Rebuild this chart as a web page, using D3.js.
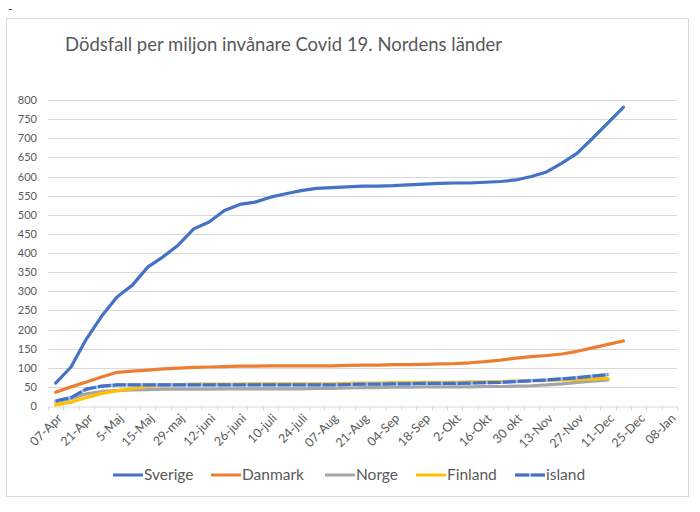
<!DOCTYPE html>
<html>
<head>
<meta charset="utf-8">
<script src="https://cdn.jsdelivr.net/npm/d3@7"></script>
<style>
  html, body { margin: 0; padding: 0; background: #fff; }
  svg { display: block; font-family: "Lato", "Open Sans", sans-serif; }
</style>
</head>
<body>
<svg id="chart" width="700" height="512"></svg>
<script>
// ---- Data ----
const categories = ["07-Apr","14-Apr","21-Apr","28-Apr","5-Maj","10-Maj","15-Maj","22-maj","29-maj","5-juni",
  "12-juni","19-juni","26-juni","3-juli","10-juli","17-juli","24-juli","31-juli","07-Aug","14-Aug",
  "21-Aug","28-Aug","04-Sep","11-Sep","18-Sep","25-Sep","2-Okt","9-Okt","16-Okt","23-Okt",
  "30 okt","6-Nov","13-Nov","20-Nov","27-Nov","4-Dec","11-Dec","18-Dec","25-Dec","01-Jan","08-Jan"];
const tickLabels = ["07-Apr","21-Apr","5-Maj","15-Maj","29-maj","12-juni","26-juni","10-juli","24-juli","07-Aug",
  "21-Aug","04-Sep","18-Sep","2-Okt","16-Okt","30 okt","13-Nov","27-Nov","11-Dec","25-Dec","08-Jan"];
const yTicks = [0,50,100,150,200,250,300,350,400,450,500,550,600,650,700,750,800];

const sverige = [60,102,175,235,285,316,363,390,421,463,481,511,527,533,546,555,563,569,571,573,
  575,575,576,578,580,582,583,583,585,587,591,600,612,635,661,700,740,781];
const danmark = [36,50,63,76,88,91,94,97,99,101,102,103,104,104,105,105,105,105,105,106,
  107,107,108,108,109,110,111,113,116,120,125,129,132,136,143,152,161,170];
const norge = [11,19,32,38,40,42,43,44,44,44,44,45,45,45,45,45,45,46,46,47,
  48,48,49,49,50,50,50,50,51,51,52,53,55,58,62,65,68];
const finland = [3,10,22,33,40,45,51,55,56,57,57,57,57,58,58,58,58,58,58,59,
  60,60,61,61,62,62,62,63,63,64,65,66,67,68,69,71,72];
const island = [13,22,44,52,55,55,55,55,55,55,55,55,55,55,55,55,55,55,55,56,
  57,57,58,58,59,59,59,60,61,62,64,66,68,71,74,78,82];

const series = [
  {name: "Sverige", values: sverige, color: "#4472C4"},
  {name: "Danmark", values: danmark, color: "#ED7D31"},
  {name: "Norge", values: norge, color: "#A5A5A5"},
  {name: "Finland", values: finland, color: "#FFC000"},
  {name: "island", values: island, color: "#4472C4", dashed: true}
];

// ---- Layout ----
const svg = d3.select("#chart");
const pLeft = 48, pRight = 677, pTop = 100, pBottom = 406;

svg.append("text").attr("x", 8).attr("y", 13).attr("font-size", 12).attr("fill", "#333").text("-");

svg.append("rect").attr("x", 6.5).attr("y", 18.5).attr("width", 682).attr("height", 478)
  .attr("fill", "#fff").attr("stroke", "#d9d9d9").attr("stroke-width", 1);

svg.append("text").attr("x", 65).attr("y", 51).attr("font-size", 19).attr("fill", "#595959")
  .attr("textLength", 437).attr("lengthAdjust", "spacingAndGlyphs")
  .text("Dödsfall per miljon invånare Covid 19. Nordens länder");

const x = d3.scaleBand().domain(categories).range([pLeft, pRight]).paddingInner(0).paddingOuter(0);
const y = d3.scaleLinear().domain([0, 800]).range([pBottom, pTop]);
const cx = c => x(c) + x.bandwidth() / 2;

// gridlines
svg.append("g").selectAll("line").data(yTicks.filter(d => d > 0)).join("line")
  .attr("x1", pLeft).attr("x2", pRight)
  .attr("y1", d => Math.round(y(d)) + 0.5).attr("y2", d => Math.round(y(d)) + 0.5)
  .attr("stroke", "#d9d9d9").attr("stroke-width", 1);

// y axis labels
const yAxis = d3.axisLeft(y).tickValues(yTicks).tickSize(0).tickPadding(0);
const gy = svg.append("g").attr("transform", `translate(37,0)`).call(yAxis);
gy.select(".domain").remove();
gy.selectAll("text").attr("font-size", 11).attr("fill", "#595959").attr("font-family", "Lato, sans-serif");

// x axis
const xAxis = d3.axisBottom(x).tickValues([]).tickSize(0);
const gx = svg.append("g").attr("transform", `translate(0,${Math.round(pBottom) + 0.5})`).call(xAxis);
gx.select(".domain").attr("stroke", "#d9d9d9");
const bounds = categories.map(c => x(c)).concat([pRight]);
gx.selectAll("line.tk").data(bounds).join("line").attr("class", "tk")
  .attr("x1", d => Math.round(d) + 0.5).attr("x2", d => Math.round(d) + 0.5)
  .attr("y1", 0).attr("y2", 4).attr("stroke", "#d9d9d9");

// x labels
svg.append("g").selectAll("text").data(tickLabels).join("text")
  .attr("transform", d => `translate(${cx(d) + 4},${pBottom + 10}) rotate(-45)`)
  .attr("text-anchor", "end").attr("dy", "0.35em")
  .attr("font-size", 12.5).attr("fill", "#595959")
  .text(d => d);

// lines
const line = d3.line().x((d, i) => cx(categories[i])).y(d => y(d)).curve(d3.curveLinear);
const gl = svg.append("g").attr("fill", "none").attr("stroke-linejoin", "round").attr("stroke-linecap", "round");
series.forEach(s => {
  if (s.dashed) {
    gl.append("path").attr("d", line(s.values)).attr("stroke", "#a9bfe6").attr("stroke-width", 3.2);
    gl.append("path").attr("d", line(s.values)).attr("stroke", s.color).attr("stroke-width", 3.2)
      .attr("stroke-dasharray", "13,2").attr("stroke-linecap", "butt");
  } else {
    gl.append("path").attr("d", line(s.values)).attr("stroke", s.color).attr("stroke-width", 3.2);
  }
});

// legend
const legendX = [113, 211, 325, 416, 515];
const lg = svg.append("g");
series.forEach((s, i) => {
  const g = lg.append("g").attr("transform", `translate(${legendX[i]},475)`);
  if (s.dashed) {
    g.append("line").attr("x1", 0).attr("x2", 30).attr("stroke", "#a9bfe6").attr("stroke-width", 3);
    g.append("line").attr("x1", 0).attr("x2", 30).attr("stroke", s.color).attr("stroke-width", 3)
      .attr("stroke-dasharray", "14,2");
  } else {
    g.append("line").attr("x1", 0).attr("x2", 30).attr("stroke", s.color).attr("stroke-width", 3);
  }
  g.append("text").attr("x", 31).attr("dy", "0.35em").attr("font-size", 15.5).attr("fill", "#595959").text(s.name);
});
</script>
</body>
</html>
